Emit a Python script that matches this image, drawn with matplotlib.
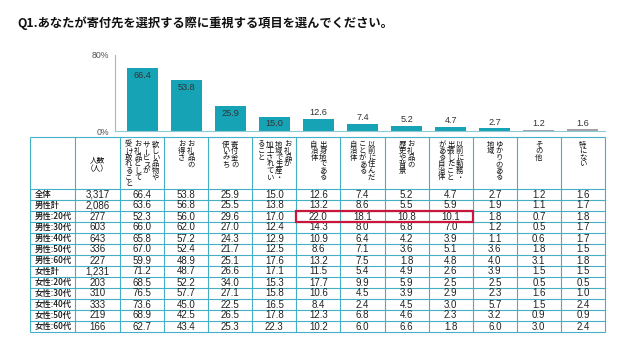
import matplotlib
matplotlib.use("Agg")
import matplotlib.pyplot as plt
from matplotlib.patches import Rectangle

# ---------------- data ----------------
title = "Q1.あなたが寄付先を選択する際に重視する項目を選んでください。"

categories = [
    "欲しい品物や\nサービスが\nお礼品として\n受け取れること",
    "お礼品の\nお得さ",
    "寄付金の\n使いみち",
    "お礼品が\n地域で生産・\n加工されてい\nること",
    "出身地である\n自治体",
    "以前に住んだ\nことがある\n自治体",
    "お礼品の\n歴史や背景",
    "以前に勤務・\n出張したこと\nがある自治体",
    "ゆかりのある\n地域",
    "その他",
    "特にない",
]

row_labels = ["全体", "男性計", "男性:20代", "男性:30代", "男性:40代", "男性:50代", "男性:60代",
              "女性計", "女性:20代", "女性:30代", "女性:40代", "女性:50代", "女性:60代"]

respondents = [3317, 2086, 277, 603, 643, 336, 227, 1231, 203, 310, 333, 219, 166]

overall = [66.4, 53.8, 25.9, 15.0, 12.6, 7.4, 5.2, 4.7, 2.7, 1.2, 1.6]
male_total = [63.6, 56.8, 25.5, 13.8, 13.2, 8.6, 5.5, 5.9, 1.9, 1.1, 1.7]
male_20s = [52.3, 56.0, 29.6, 17.0, 22.0, 18.1, 10.8, 10.1, 1.8, 0.7, 1.8]
male_30s = [66.0, 62.0, 27.0, 12.4, 14.3, 8.0, 6.8, 7.0, 1.2, 0.5, 1.7]
male_40s = [65.8, 57.2, 24.3, 12.9, 10.9, 6.4, 4.2, 3.9, 1.1, 0.6, 1.7]
male_50s = [67.0, 52.4, 21.7, 12.5, 8.6, 7.1, 3.6, 5.1, 3.6, 1.8, 1.5]
male_60s = [59.9, 48.9, 25.1, 17.6, 13.2, 7.5, 1.8, 4.8, 4.0, 3.1, 1.8]
female_total = [71.2, 48.7, 26.6, 17.1, 11.5, 5.4, 4.9, 2.6, 3.9, 1.5, 1.5]
female_20s = [68.5, 52.2, 34.0, 15.3, 17.7, 9.9, 5.9, 2.5, 2.5, 0.5, 0.5]
female_30s = [76.5, 57.7, 27.1, 15.8, 10.6, 4.5, 3.9, 2.9, 2.3, 1.6, 1.0]
female_40s = [73.6, 45.0, 22.5, 16.5, 8.4, 2.4, 4.5, 3.0, 5.7, 1.5, 2.4]
female_50s = [68.9, 42.5, 26.5, 17.8, 12.3, 6.8, 4.6, 2.3, 3.2, 0.9, 0.9]
female_60s = [62.7, 43.4, 25.3, 22.3, 10.2, 6.0, 6.6, 1.8, 6.0, 3.0, 2.4]

table_values = [overall, male_total, male_20s, male_30s, male_40s, male_50s, male_60s,
                female_total, female_20s, female_30s, female_40s, female_50s, female_60s]

y_ticks = [0, 80]
y_tick_labels = ["0%", "80%"]
count_header = "人数\n（人）"

highlight_row = "男性:20代"
highlight_cols = [4, 5, 6, 7]

# ---------------- style ----------------
TEAL = "#17a3b6"
GRAY = "#a3a3a3"
LINE = "#45b0c4"
RED = "#c8163c"
JP = ["Noto Sans CJK JP", "DejaVu Sans"]
NUM = ["Liberation Sans", "DejaVu Sans"]

W, H = 630, 351
fig = plt.figure(figsize=(6.3, 3.51), dpi=100)
fig.patch.set_facecolor("white")

tab = fig.add_axes([0, 0, 1, 1])
tab.set_xlim(0, W)
tab.set_ylim(H, 0)
tab.axis("off")

# title
tab.text(17, 23, title, ha="left", va="center", fontsize=8.85, fontweight="bold",
         family=JP, color="#111111")

# table geometry (pixels)
X0, X1, X2, XR = 30, 75, 120, 605
ncol = len(categories)
colw = (XR - X2) / ncol
YT, YH = 137, 189
rowh = 11.0
nrow = len(row_labels)
YB = YH + nrow * rowh

# grid lines
lw = 0.8
for y in [YT, YH] + [YH + (i + 1) * rowh for i in range(nrow)]:
    tab.plot([X0, XR], [y, y], color=LINE, lw=lw, solid_capstyle="butt")
for x in [X0, X1] + [X2 + i * colw for i in range(ncol + 1)]:
    tab.plot([x, x], [YT, YB], color=LINE, lw=lw, solid_capstyle="butt")

# header: respondents
hl = count_header.split("\n")
tab.text((X1 + X2) / 2, 160, hl[0], ha="center", va="center", fontsize=5.5, family=JP)
tab.text((X1 + X2) / 2, 169.5, hl[1], ha="center", va="center", fontsize=5.5, family=JP)

# header: vertical text (right-to-left columns)
pitch = 6.6
lsp = 8.9
ytop = 144.5
for c, cat in enumerate(categories):
    lines = cat.split("\n")
    cx = X2 + (c + 0.5) * colw
    n = len(lines)
    for j, line in enumerate(lines):
        lx = cx + (n - 1) / 2 * lsp - j * lsp
        for k, ch in enumerate(line):
            rot = 90 if ch == "ー" else 0
            tab.text(lx, ytop + k * pitch, ch, ha="center", va="center",
                     fontsize=5.3, family=JP, rotation=rot, color="#111111")

# body
for r, lab in enumerate(row_labels):
    cy = YH + (r + 0.5) * rowh
    tab.text(X0 + 5, cy, lab, ha="left", va="center", fontsize=6, family=JP,
             fontweight="medium", color="#111111")
    tab.text((X1 + X2) / 2, cy, f"{respondents[r]:,}", ha="center", va="center",
             fontsize=7, family=NUM, color="#222222")
    for c, v in enumerate(table_values[r]):
        tab.text(X2 + (c + 0.5) * colw, cy, f"{v:.1f}", ha="center", va="center",
                 fontsize=7, family=NUM, color="#222222")

# highlight box
hr = row_labels.index(highlight_row)
tab.add_patch(Rectangle((X2 + min(highlight_cols) * colw, YH + hr * rowh),
                        len(highlight_cols) * colw, rowh, fill=False, ec=RED, lw=1.6, zorder=5))

# ---------------- bar chart ----------------
ax_l, ax_r, ax_b, ax_t = 115, 605, 131, 55
ax = fig.add_axes([ax_l / W, (H - ax_b) / H, (ax_r - ax_l) / W, (ax_b - ax_t) / H])
ax.patch.set_alpha(0)
c0 = X2 + colw / 2
ax.set_xlim((ax_l - c0) / colw, (ax_r - c0) / colw)
ax.set_ylim(0, 80)
colors = [TEAL] * (ncol - 2) + [GRAY] * 2
xs = list(range(ncol))
ax.bar(xs, overall, width=31 / colw, color=colors)
for x, v in zip(xs, overall):
    if v >= 15:
        ax.annotate(f"{v:.1f}", (x, v), xytext=(0, -5.2), textcoords="offset points",
                    ha="center", va="center", fontsize=6.6, family=NUM, color="#333333")
    else:
        ax.annotate(f"{v:.1f}", (x, v), xytext=(0, 4.4), textcoords="offset points",
                    ha="center", va="center", fontsize=6.6, family=NUM, color="#333333")

ax.set_yticks(y_ticks)
ax.set_yticklabels(y_tick_labels, family=NUM, fontsize=6.3, color="#555555")
ax.set_xticks([])
ax.tick_params(axis="y", length=0, pad=4)
for s in ["top", "right"]:
    ax.spines[s].set_visible(False)
ax.spines["left"].set_color("#b5b5b5")
ax.spines["left"].set_linewidth(0.8)
ax.spines["bottom"].set_color("#8fcbd6")
ax.spines["bottom"].set_linewidth(0.8)

fig.savefig("out.png", dpi=100, facecolor="white")
